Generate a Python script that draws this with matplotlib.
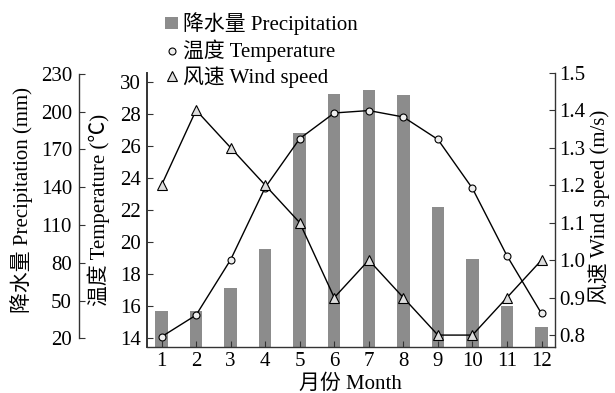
import numpy as np
import matplotlib.pyplot as plt
from matplotlib.patches import Patch
from matplotlib.lines import Line2D

plt.rcParams['font.family'] = ['Liberation Serif', 'Noto Sans CJK SC']
plt.rcParams['font.size'] = 15
plt.rcParams['axes.unicode_minus'] = False

# monthly climate data
months = np.arange(1, 13)
precip = [42, 42, 60, 91, 183, 214, 217, 213, 124, 83, 46, 29]          # mm
temp = [14.1, 15.45, 18.9, 23.4, 26.45, 28.05, 28.2, 27.8, 26.4, 23.35, 19.15, 15.55]  # degC
wind = [1.2, 1.4, 1.3, 1.2, 1.1, 0.9, 1.0, 0.9, 0.8, 0.8, 0.9, 1.0]     # m/s

spine_c = '#333333'

fig = plt.figure(figsize=(6.15, 3.93), dpi=100)
ax_p = fig.add_axes([0.2385, 0.1178, 0.6639, 0.6972])

# precipitation bars (base axes, spine pushed out to the left)
bars = ax_p.bar(months, precip, width=0.36, color='#8c8c8c', zorder=1)
ax_p.set_xlim(0.57, 12.39)
ax_p.set_ylim(13.3, 231)
ax_p.set_yticks(np.arange(20, 231, 30))
ax_p.spines['left'].set_position(('axes', -0.166))
ax_p.spines['left'].set_bounds(20, 230)
for s in ['top', 'right']:
    ax_p.spines[s].set_visible(False)
for s in ['left', 'bottom']:
    ax_p.spines[s].set_color(spine_c)
    ax_p.spines[s].set_linewidth(1.0)
ax_p.tick_params(axis='y', direction='in', length=4, pad=5, color=spine_c)
ax_p.tick_params(axis='x', direction='in', length=4, pad=4, color=spine_c)
ax_p.set_xticks(months)
ax_p.set_ylabel('降水量 Precipitation (mm)')
ax_p.yaxis.set_label_coords(-0.278, 0.535)
ax_p.set_xlabel('月份 Month', labelpad=2)

# temperature on the inner left axis
ax_t = ax_p.twinx()
ax_t.yaxis.set_ticks_position('left')
ax_t.yaxis.set_label_position('left')
ax_t.spines['left'].set_visible(True)
ax_t.spines['left'].set_color(spine_c)
ax_t.spines['left'].set_linewidth(1.4)
for s in ['top', 'right', 'bottom']:
    ax_t.spines[s].set_visible(False)
ax_t.plot(months, temp, color='black', lw=1, marker='o', ms=5,
          mfc='#eeeeee', mec='black', mew=0.8, zorder=3)
ax_t.set_ylim(13.48, 30.56)
ax_t.set_yticks(np.arange(14, 31, 2))
ax_t.tick_params(axis='y', direction='in', length=4, pad=4, color=spine_c)
ax_t.set_ylabel('温度 Temperature (℃)')
ax_t.yaxis.set_label_coords(-0.09, 0.5)

# wind speed on the right axis
ax_w = ax_p.twinx()
for s in ['top', 'left', 'bottom']:
    ax_w.spines[s].set_visible(False)
ax_w.spines['right'].set_color(spine_c)
ax_w.spines['right'].set_linewidth(1.0)
ax_w.plot(months, wind, color='black', lw=1, marker='^', ms=6.5,
          mfc='#dddddd', mec='black', mew=0.8, zorder=3)
ax_w.set_ylim(0.769, 1.5)
ax_w.set_yticks(np.arange(0.8, 1.51, 0.1))
ax_w.set_yticklabels(['%.1f' % v for v in np.arange(0.8, 1.51, 0.1)])
ax_w.tick_params(axis='y', direction='in', length=4, pad=3, color=spine_c)
ax_w.set_ylabel('风速 Wind speed (m/s)')
ax_w.yaxis.set_label_coords(1.081, 0.51)

handles = [
    Patch(facecolor='#8c8c8c', edgecolor='none'),
    Line2D([], [], ls='none', marker='o', ms=5, mfc='#eeeeee', mec='black', mew=0.8),
    Line2D([], [], ls='none', marker='^', ms=6.5, mfc='#dddddd', mec='black', mew=0.8),
]
labels = ['降水量 Precipitation', '温度 Temperature', '风速 Wind speed']
fig.legend(handles, labels, loc='upper left', bbox_to_anchor=(0.245, 1.005),
           frameon=False, handlelength=0.6, handleheight=0.45, handletextpad=0.25,
           labelspacing=0.2, borderaxespad=0.3)

fig.savefig('out.png', dpi=100)
